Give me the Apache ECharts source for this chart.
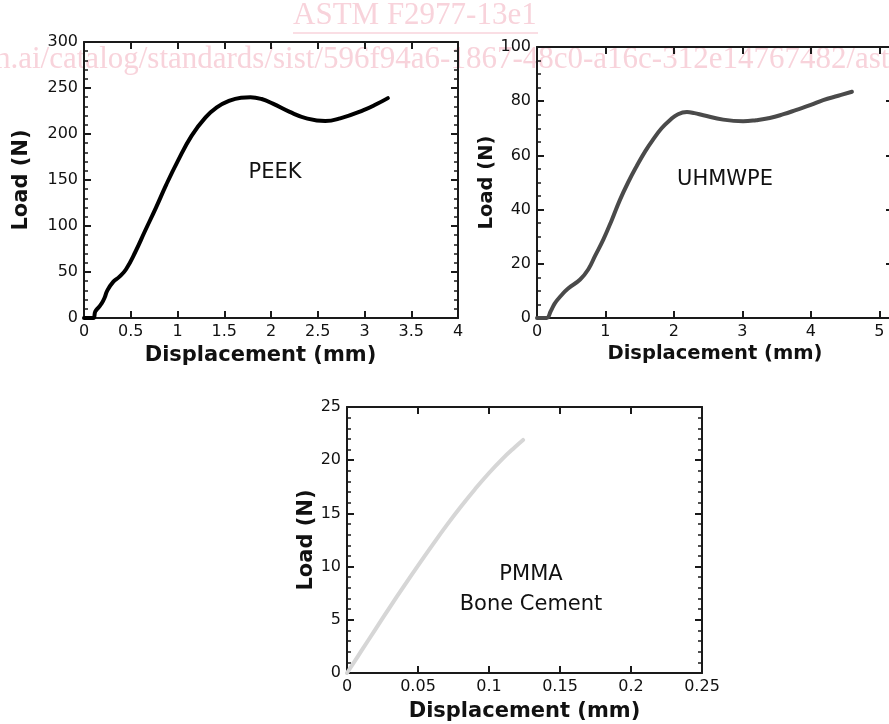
<!DOCTYPE html>
<html>
<head>
<meta charset="utf-8">
<script src="https://cdn.jsdelivr.net/npm/echarts/dist/echarts.min.js"></script>
<style>
html,body{margin:0;padding:0;background:#fff;}
#c{width:889px;height:724px;}
</style>
</head>
<body>
<div id="c"></div>
<script>
// ---------- data ----------
const peekDisp = [0, 0.1, 0.12, 0.16, 0.19, 0.22, 0.25, 0.31, 0.38, 0.45, 0.55, 0.65, 0.77, 0.88, 1.0, 1.15, 1.3, 1.42, 1.55, 1.68, 1.78, 1.9, 2.02, 2.2, 2.38, 2.58, 2.74, 2.99, 3.12, 3.25];
const peekLoad = [0, 0, 7, 12, 16, 22, 30, 39, 45, 53, 72, 94, 120, 145, 170, 198, 218, 229, 236, 239.5, 240, 238, 233, 224, 217, 214, 217, 226, 232, 239];

const uhmwpeDisp = [0, 0.14, 0.2, 0.26, 0.35, 0.45, 0.63, 0.75, 0.85, 0.97, 1.09, 1.21, 1.33, 1.455, 1.58, 1.70, 1.82, 1.94, 2.06, 2.19, 2.3, 2.43, 2.72, 3.01, 3.2, 3.4, 3.6, 3.79, 4.0, 4.18, 4.4, 4.6];
const uhmwpeLoad = [0, 0, 2.5, 5.4, 8.2, 10.8, 14.2, 18, 23, 29, 36, 43.5, 50, 56, 61.5, 66, 70, 73, 75.2, 76, 75.6, 74.8, 73.2, 72.6, 73, 73.8, 75.2, 76.8, 78.6, 80.4, 82, 83.5];

const pmmaDisp = [0, 0.01, 0.02, 0.03, 0.04, 0.05, 0.06, 0.07, 0.08, 0.09, 0.1, 0.11, 0.118, 0.124];
const pmmaLoad = [0, 2.05, 4.1, 6.15, 8.15, 10.1, 12.0, 13.85, 15.6, 17.25, 18.8, 20.2, 21.2, 21.9];

const peekXTicks = { min: 0, max: 4, interval: 0.5 };
const peekYTicks = { min: 0, max: 300, interval: 50, minor: 5 };
const uhmwpeXTicks = { min: 0, max: 5.2, interval: 1, showMax: false };
const uhmwpeYTicks = { min: 0, max: 100, interval: 20, minor: 4 };
const pmmaXTicks = { min: 0, max: 0.25, interval: 0.05 };
const pmmaYTicks = { min: 0, max: 25, interval: 5, minor: 5 };

const xName = 'Displacement (mm)';
const yName = 'Load (N)';
const labels = ['PEEK', 'UHMWPE', 'PMMA\nBone Cement'];
const watermark1 = 'ASTM F2977-13e1';
const watermark2 = 'h.ai/catalog/standards/sist/596f94a6-1867-48c0-a16c-312e14767482/astm-f2977-13e1';

// ---------- styling ----------
const FONT = 'DejaVu Sans';
const LC = '#1a1a1a';

function zip(a, b) { return a.map((v, i) => [v, b[i]]); }

function axis(gi, r, pos, showLab, extra) {
  return Object.assign({
    type: 'value', gridIndex: gi, position: pos,
    min: r.min, max: r.max, interval: r.interval,
    axisLine: { show: true, onZero: false, lineStyle: { color: LC, width: 2 } },
    axisTick: { show: true, inside: true, length: 7, lineStyle: { color: LC, width: 2 } },
    minorTick: { show: !!r.minor, splitNumber: r.minor || 5, length: 4, lineStyle: { color: LC, width: 1.5 } },
    splitLine: { show: false }, minorSplitLine: { show: false },
    axisLabel: { show: showLab, fontFamily: FONT, fontSize: 16, color: '#111', margin: 6,
                 showMaxLabel: r.showMax !== false, showMinLabel: true },
    silent: true
  }, extra || {});
}

function nameOpts(gap, size, pad, rotate) {
  const o = {
    name: rotate ? yName : xName, nameLocation: 'middle', nameGap: gap,
    nameTextStyle: { fontFamily: FONT, fontWeight: 'bold', fontSize: size, color: '#111', padding: pad || 0 }
  };
  if (rotate) o.nameRotate = 90;
  return o;
}

const grids = [
  { left: 84, top: 42, width: 374, height: 276 },
  { left: 537, top: 47, width: 356, height: 271 },
  { left: 347, top: 407, width: 355, height: 266 }
].map(g => Object.assign(g, { containLabel: false, outerBoundsMode: 'none' }));

const xAxes = [
  axis(0, peekXTicks, 'bottom', true, nameOpts(27, 21, [0, 21, 0, 0])),
  axis(0, peekXTicks, 'top', false),
  axis(1, uhmwpeXTicks, 'bottom', true, nameOpts(26, 19.5)),
  axis(1, uhmwpeXTicks, 'top', false),
  axis(2, pmmaXTicks, 'bottom', true, nameOpts(28, 21)),
  axis(2, pmmaXTicks, 'top', false)
];
const yAxes = [
  axis(0, peekYTicks, 'left', true, nameOpts(52, 21, 0, true)),
  axis(0, peekYTicks, 'right', false),
  axis(1, uhmwpeYTicks, 'left', true, nameOpts(27, 19.5, 0, true)),
  axis(1, uhmwpeYTicks, 'right', false),
  axis(2, pmmaYTicks, 'left', true, nameOpts(28, 21, 0, true)),
  axis(2, pmmaYTicks, 'right', false)
];

function lineSeries(xi, data, color) {
  return {
    type: 'line', xAxisIndex: xi, yAxisIndex: xi, data: data,
    smooth: 0.45, showSymbol: false, symbol: 'none', clip: true,
    lineStyle: { color: color, width: 4, cap: 'round', join: 'round' },
    silent: true, z: 3
  };
}

const series = [
  lineSeries(0, zip(peekDisp, peekLoad), '#000000'),
  lineSeries(2, zip(uhmwpeDisp, uhmwpeLoad), '#4a4a4a'),
  lineSeries(4, zip(pmmaDisp, pmmaLoad), '#d6d6d6')
];

const WM = '#f8d3db';
const graphic = [
  { type: 'text', x: 293, y: 31, z: -10, silent: true,
    style: { text: watermark1, font: '31px "Liberation Serif"', fill: WM, align: 'left', verticalAlign: 'bottom' } },
  { type: 'line', z: -10, silent: true, shape: { x1: 293, y1: 33, x2: 538, y2: 33 }, style: { stroke: WM, lineWidth: 1.5 } },
  { type: 'text', x: -5, y: 75, z: -10, silent: true,
    style: { text: watermark2, font: '31px "Liberation Serif"', fill: WM, align: 'left', verticalAlign: 'bottom' } },
  { type: 'text', x: 275, y: 173, z: 5, silent: true,
    style: { text: labels[0], fontFamily: FONT, fontSize: 21, fill: '#111', align: 'center', verticalAlign: 'middle' } },
  { type: 'text', x: 725, y: 180, z: 5, silent: true,
    style: { text: labels[1], fontFamily: FONT, fontSize: 21, fill: '#111', align: 'center', verticalAlign: 'middle' } },
  { type: 'text', x: 531, y: 590, z: 5, silent: true,
    style: { text: labels[2], fontFamily: FONT, fontSize: 21, lineHeight: 30, fill: '#111', align: 'center', verticalAlign: 'middle' } }
];

const chart = echarts.init(document.getElementById('c'), null, { renderer: 'canvas' });
chart.setOption({
  animation: false,
  backgroundColor: '#ffffff',
  grid: grids,
  xAxis: xAxes,
  yAxis: yAxes,
  series: series,
  graphic: graphic
});
</script>
</body>
</html>
